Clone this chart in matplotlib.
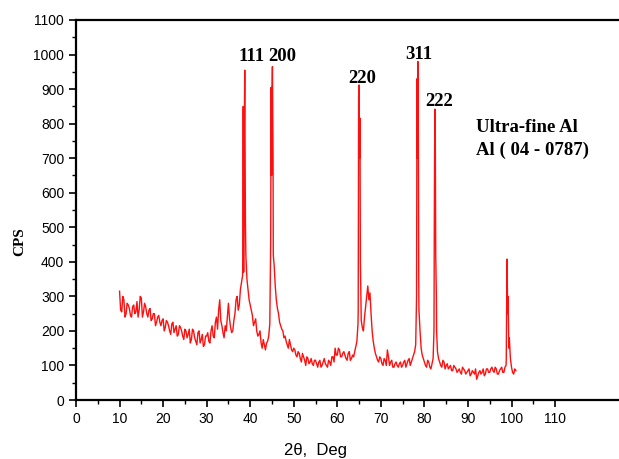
import numpy as np
import matplotlib
matplotlib.use("Agg")
import matplotlib.pyplot as plt
from matplotlib.ticker import MultipleLocator, FixedLocator

# Background trace, 2theta from 10 to 101 deg in 0.5 deg steps
bg_theta_start, bg_theta_stop, bg_theta_step = 10.0, 101.0, 0.5
bg_cps = [
    315, 255, 290, 250, 275, 245, 270, 250, 285, 260,   # 10.0 - 14.5
    295, 255, 270, 240, 265, 235, 250, 225, 245, 215,   # 15.0 - 19.5
    235, 210, 225, 200, 220, 195, 215, 190, 210, 185,   # 20.0 - 24.5
    205, 180, 205, 175, 200, 170, 195, 165, 190, 160,   # 25.0 - 29.5
    185, 170, 200, 185, 225, 205, 290, 215, 180, 200,   # 30.0 - 34.5
    280, 210, 200, 250, 300, 275, 340, 370, 420, 320,   # 35.0 - 39.5
    275, 245, 225, 200, 190, 165, 175, 145, 170, 220,   # 40.0 - 44.5
    880, 390, 290, 250, 215, 200, 185, 160, 175, 145,   # 45.0 - 49.5
    150, 130, 140, 120, 135, 115, 125, 105, 120, 100,   # 50.0 - 54.5
    115, 95, 115, 100, 120, 100, 115, 100, 125, 150,    # 55.0 - 59.5
    130, 145, 125, 140, 120, 135, 115, 130, 140, 170,   # 60.0 - 64.5
    912, 230, 200, 270, 330, 310, 200, 150, 125, 110,   # 65.0 - 69.5
    120, 100, 115, 145, 100, 115, 95, 110, 95, 110,     # 70.0 - 74.5
    100, 115, 105, 120, 110, 130, 160, 980, 200, 130,   # 75.0 - 79.5
    110, 95, 110, 90, 120, 773, 140, 110, 95, 110,      # 80.0 - 84.5
    100, 90, 100, 85, 95, 80, 90, 75, 90, 75,           # 85.0 - 89.5
    85, 70, 85, 75, 60, 80, 75, 90, 75, 90,             # 90.0 - 94.5
    80, 95, 80, 90, 75, 90, 80, 95, 408, 180,           # 95.0 - 99.5
    95, 75, 85,                                         # 100.0 - 101.0
]

# Intermediate readings at 10.25, 10.75, ... 100.75 deg
mid_theta_start, mid_theta_stop = 10.25, 100.75
mid_cps = [
    260, 300, 240, 280, 265, 240, 275, 255, 240, 300,   # 10.25 - 14.75
    240, 280, 250, 260, 230, 250, 215, 240, 225, 230,   # 15.25 - 19.75
    200, 230, 215, 190, 225, 205, 185, 215, 200, 175,   # 20.25 - 24.75
    200, 190, 165, 205, 180, 160, 200, 175, 155, 185,   # 25.25 - 29.75
    195, 165, 215, 180, 240, 260, 230, 195, 215, 240,   # 30.25 - 34.75
    235, 195, 230, 290, 260, 320, 360, 955, 350, 290,   # 35.25 - 39.75
    260, 215, 235, 185, 200, 150, 160, 165, 185, 700,   # 40.25 - 44.75
    700, 330, 265, 225, 205, 180, 170, 150, 160, 140,   # 45.25 - 49.75
    145, 125, 135, 110, 125, 100, 120, 110, 105, 115,   # 50.25 - 54.75
    105, 110, 95, 110, 105, 95, 110, 125, 110, 130,     # 55.25 - 59.75
    150, 125, 135, 130, 115, 140, 120, 125, 155, 220,   # 60.25 - 64.75
    600, 210, 240, 300, 290, 250, 170, 135, 115, 125,   # 65.25 - 69.75
    105, 120, 100, 125, 110, 95, 105, 100, 105, 95,     # 70.25 - 74.75
    110, 95, 115, 100, 120, 140, 600, 260, 150, 120,    # 75.25 - 79.75
    100, 115, 95, 105, 400, 300, 120, 100, 115, 90,     # 80.25 - 84.75
    105, 95, 85, 100, 90, 85, 80, 95, 85, 80,           # 85.25 - 89.75
    90, 75, 80, 90, 70, 85, 80, 70, 90, 80,             # 90.25 - 94.75
    90, 85, 95, 75, 85, 95, 80, 100, 260, 120,          # 95.25 - 99.75
    80, 90,                                             # 100.25 - 100.75
]

# Extra points resolving the sharp reflections
peak_theta = [38.3, 38.4, 38.6, 38.9, 39.2,
              44.7, 44.8, 44.9, 45.1, 45.3,
              64.8, 64.9, 65.1, 65.2, 65.3,
              78.2, 78.3, 78.4, 78.6, 78.7,
              82.2, 82.3, 82.4, 82.6, 82.8,
              98.8, 98.9, 99.1, 99.2, 99.3, 99.4]
peak_cps = [400, 850, 700, 520, 360,
            450, 905, 650, 965, 420,
            260, 880, 700, 816, 400,
            300, 930, 700, 800, 350,
            200, 600, 842, 420, 200,
            120, 300, 250, 300, 217, 150]

hkl_labels = ["111", "200", "220", "311", "222"]
hkl_x = [40.2, 47.3, 65.7, 78.8, 83.3]
hkl_y = [993, 993, 932, 1001, 865]

x_ticks = [0, 10, 20, 30, 40, 50, 60, 70, 80, 90, 100, 110]
y_ticks = [0, 100, 200, 300, 400, 500, 600, 700, 800, 900, 1000, 1100]

bg_theta = np.arange(bg_theta_start, bg_theta_stop + 1e-9, bg_theta_step)
mid_theta = np.arange(mid_theta_start, mid_theta_stop + 1e-9, bg_theta_step)
theta = np.concatenate([bg_theta, mid_theta, np.array(peak_theta)])
cps = np.concatenate([np.array(bg_cps, float), np.array(mid_cps, float),
                      np.array(peak_cps, float)])
order = np.argsort(theta, kind="stable")
theta, cps = theta[order], cps[order]

W, H = 619, 459
fig = plt.figure(figsize=(W / 100, H / 100), dpi=100)
ax = fig.add_axes([76 / W, (H - 400) / H, 1 - 76 / W, 380 / H])

ax.plot(theta, cps, color="#ff1010", lw=1.0)

ax.set_xlim(0, (W - 76) / 4.355)
ax.set_ylim(0, 1100)
ax.spines["right"].set_visible(False)
for s in ["left", "bottom", "top"]:
    ax.spines[s].set_linewidth(1.6)

ax.xaxis.set_major_locator(FixedLocator(x_ticks))
ax.xaxis.set_minor_locator(FixedLocator([5 + 10 * i for i in range(11)]))
ax.yaxis.set_major_locator(FixedLocator(y_ticks))
ax.yaxis.set_minor_locator(MultipleLocator(50))
ax.tick_params(which="major", direction="out", length=5, width=1.2,
               labelsize=10, top=False, right=False)
ax.tick_params(which="minor", direction="out", length=3, width=1.0,
               top=False, right=False)
ax.set_xticklabels([str(v) for v in x_ticks], fontfamily="Liberation Sans", fontsize=10)
ax.set_yticklabels([str(v) for v in y_ticks], fontfamily="Liberation Sans", fontsize=10)

for lab, xx, yy in zip(hkl_labels, hkl_x, hkl_y):
    ax.text(xx, yy, lab, ha="center", va="center", fontfamily="Liberation Serif",
            fontweight="bold", fontsize=13.5)

ax.text(91.8, 790, "Ultra-fine Al", ha="left", va="center",
        fontfamily="Liberation Serif", fontweight="bold", fontsize=13.5)
ax.text(91.8, 724, "Al ( 04 - 0787)", ha="left", va="center",
        fontfamily="Liberation Serif", fontweight="bold", fontsize=13.5)

fig.text(20 / W, 1 - 242 / H, "CPS", rotation=90, ha="center", va="center",
         fontfamily="Liberation Serif", fontweight="bold", fontsize=11)
fig.text(315 / W, 1 - 451 / H, "2\u03b8,  Deg", ha="center", va="center",
         fontfamily="Liberation Sans", fontsize=12)

fig.savefig("out.png", dpi=100)
